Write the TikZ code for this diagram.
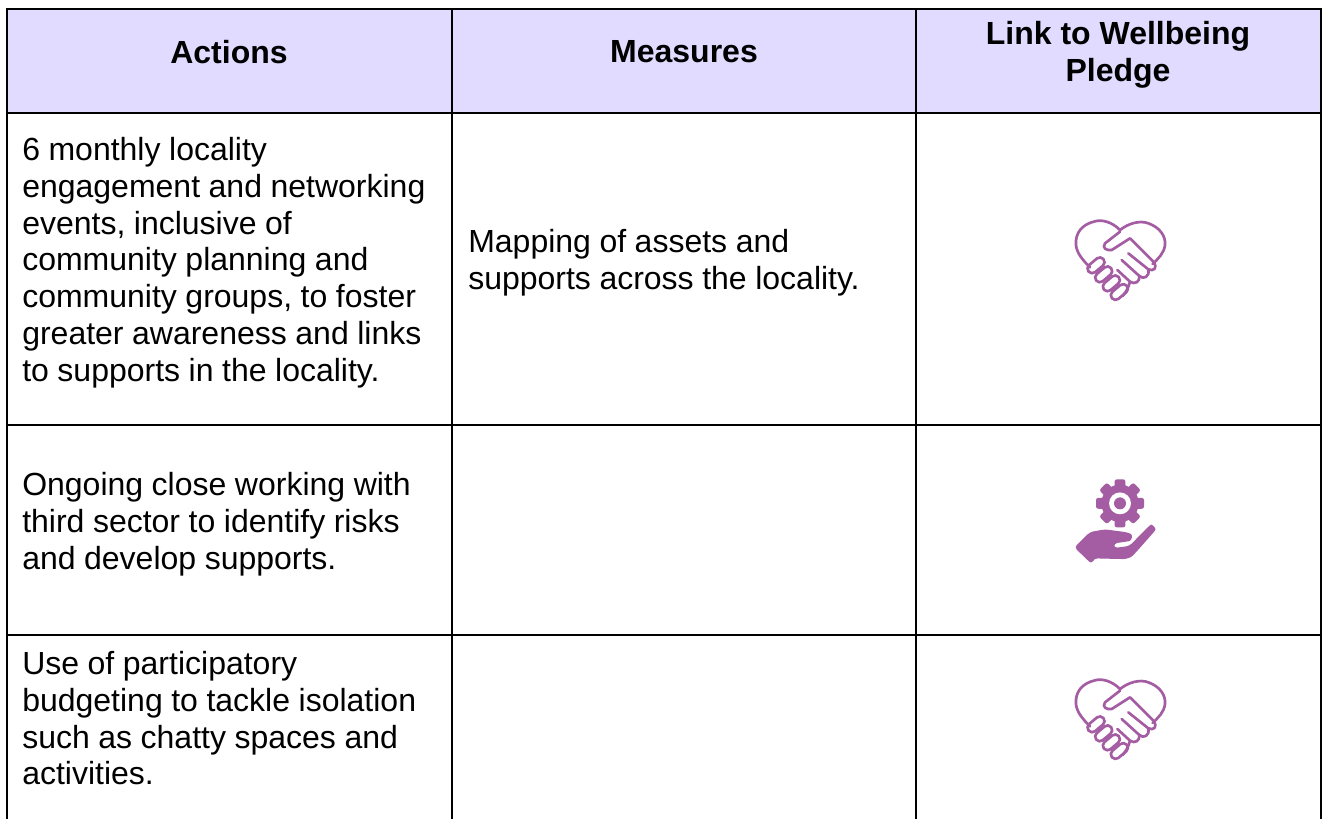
\documentclass[tikz,border=0pt]{standalone}
\usepackage{fontspec}
\setmainfont{Liberation Sans}
\definecolor{headfill}{HTML}{E0DBFF}
\definecolor{iconpurple}{HTML}{A45CA3}
\tikzset{
  x=0.75pt,y=-0.75pt,
  grid/.style={line width=1.65pt,black},
  body/.style={font=\fontsize{24}{27.6}\selectfont,execute at begin node={\spaceskip=6.4pt\relax},align=left,anchor=north west,inner sep=0pt,text width=315pt},
  head/.style={font=\fontsize{24}{27.6}\selectfont\bfseries,align=center,inner sep=0pt},
  heartpic/.pic={
    \begin{scope}[x=0.25pt,y=-0.25pt,iconpurple,line width=2pt,line cap=round,line join=round]
    \draw (240,120) .. controls (215,95) and (185,88) .. (165,94) .. controls (125,103) and (105,130) .. (108,165) .. controls (110,190) and (130,212) .. (150,232);
    \draw (240,120) .. controls (265,100) and (300,90) .. (325,100) .. controls (360,112) and (378,140) .. (375,165) .. controls (372,190) and (355,205) .. (338,222);
    \draw (240,125) -- (195,160) .. controls (185,175) and (200,182) .. (215,180) -- (270,145) -- (340,215) .. controls (355,235) and (340,245) .. (325,238) -- (265,190);
    \draw (325,238) .. controls (330,260) and (310,270) .. (298,258) -- (245,210);
    \draw (298,258) .. controls (300,275) and (285,285) .. (270,275) -- (232,240);
    \draw (270,275) .. controls (265,295) and (258,305) .. (248,318);
    \foreach \a/\b in {168/226,191/253,214/280,238/306}{
      \draw[rounded corners=3.4pt,rotate around={40:(\a,\b)}] (\a-29,\b-14) rectangle (\a+29,\b+14);
    }
    \end{scope}
  },
  gearpic/.pic={
    \begin{scope}[x=0.25pt,y=-0.25pt]
    \fill[iconpurple] (240,160) circle (14pt);
    \foreach \t in {0,45,...,315}{
      \fill[iconpurple,rounded corners=1.6pt,rotate around={\t:(240,160)}] (222,160) -- (224,88) -- (256,88) -- (258,160) -- cycle;
    }
    \fill[white] (240,160) circle (8.2pt);
    \fill[iconpurple] (240,160) circle (4.5pt);
    \fill[iconpurple,rounded corners=2.5pt] (103,292) -- (150,246) -- (195,238) -- (262,247) .. controls (280,255) and (275,272) .. (258,275) -- (222,280) -- (222,294) -- (268,288) -- (325,230) .. controls (335,222) and (350,235) .. (340,248) -- (285,310) .. controls (270,325) and (255,327) .. (240,327) -- (162,325) -- (155,342) -- cycle;
    \end{scope}
  },
}
\begin{document}
\begin{tikzpicture}
\useasboundingbox (0,0) rectangle (1327,819);
\fill[white] (0,0) rectangle (1327,819);
\fill[headfill] (7,9) rectangle (1321,113);
\draw[grid] (6,9) -- (1322,9);
\draw[grid] (6,113) -- (1322,113);
\draw[grid] (6,425) -- (1322,425);
\draw[grid] (6,635) -- (1322,635);
\draw[grid] (7,9) -- (7,819);
\draw[grid] (452,9) -- (452,819);
\draw[grid] (916,9) -- (916,819);
\draw[grid] (1321,9) -- (1321,819);
\node[head] (h1) at (229,52) {Actions};
\node[head] (h2) at (684,52) {Measures};
\node[head] (h3) at (1118,55) {Link to Wellbeing\\Pledge};
\node[body] (a1) at (22,137) {6 monthly locality\\engagement and networking\\events, inclusive of\\community planning and\\community groups, to foster\\greater awareness and links\\to supports in the locality.};
\node[body] (m1) at (468,229) {Mapping of assets and\\supports across the locality.};
\node[body] (a2) at (22,472) {Ongoing close working with\\third sector to identify risks\\and develop supports.};
\node[body] (a3) at (22,651) {Use of participatory\\budgeting to tackle isolation\\such as chatty spaces and\\activities.};
\pic at (1040,190) {heartpic};
\pic at (1040,450) {gearpic};
\pic at (1040,649) {heartpic};
\end{tikzpicture}
\end{document}
